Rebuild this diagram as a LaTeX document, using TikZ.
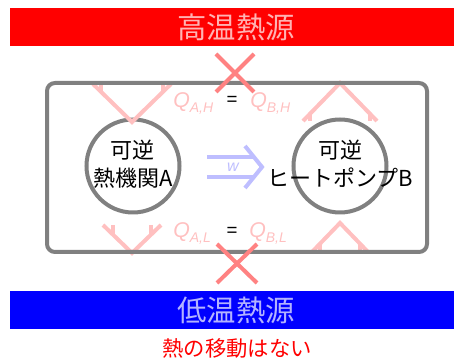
\documentclass[tikz,border=0pt]{standalone}
\usepackage{fontspec}
\setmainfont{Noto Sans CJK JP}
\newfontfamily\qfont{Liberation Sans}
\usetikzlibrary{positioning}

\definecolor{hotred}{RGB}{255,0,0}
\definecolor{coldblue}{RGB}{0,0,255}
\definecolor{heatpink}{RGB}{255,192,192}
\definecolor{crosspink}{RGB}{255,130,130}
\definecolor{workblue}{RGB}{190,190,255}
\definecolor{framegray}{RGB}{128,128,128}

\newcommand{\heatq}[2]{{\qfont\itshape Q\raisebox{-3.5pt}{\fontsize{10.5}{10.5}\selectfont #1,#2}}}

\tikzset{
  reservoir/.style={text=white, text opacity=0.7, inner sep=0pt, font=\fontsize{22}{26}\selectfont},
  engine/.style={circle, draw=framegray, line width=3pt, minimum size=69.75pt, inner sep=0pt},
  enginetext/.style={align=center, inner sep=0pt, font=\fontsize{16.5}{21}\selectfont},
  heatline/.style={heatpink, line width=3pt},
  crossline/.style={crosspink, line width=3pt},
  worklabel/.style={text=workblue, inner sep=0pt, font=\qfont\itshape\fontsize{12}{14}\selectfont},
  qlabel/.style={text=heatpink, anchor=base west, inner sep=0pt, font=\fontsize{16}{19}\selectfont},
  eqlabel/.style={inner sep=0pt, font=\qfont\fontsize{14}{16}\selectfont}
}

\begin{document}
\begin{tikzpicture}[x=0.75pt,y=-0.75pt]
  \useasboundingbox (0,0) rectangle (454,363);

  % Reservoirs
  \fill[hotred] (10,8) rectangle (454,46);
  \node[reservoir] (hot) at (236,27) {高温熱源};
  \fill[coldblue] (10,291) rectangle (454,329);
  \node[reservoir] (cold) at (236,310) {低温熱源};

  % Engine and heat pump
  \node[engine] (engA) at (133,166) {};
  \node[enginetext] (engAtext) at (133,164) {可逆\\熱機関A};
  \node[engine] (pumpB) at (340,166) {};
  \node[enginetext] (pumpBtext) at (340,164) {可逆\\ヒートポンプB};

  % Heat flows (faded)
  \draw[heatline] (93,84) -- (132,122) -- (171,84);
  \draw[heatline] (101,84) -- (101,92);
  \draw[heatline] (163,84) -- (163,92);
  \draw[heatline] (303,121) -- (340,83) -- (377,121);
  \draw[heatline] (310,113) -- (310,121);
  \draw[heatline] (370,113) -- (370,121);
  \draw[heatline] (103,225) -- (132,253) -- (161,225);
  \draw[heatline] (113,225) -- (113,234);
  \draw[heatline] (151,225) -- (151,234);
  \draw[heatline] (312,252) -- (340,223) -- (368,252);
  \draw[heatline] (320,244) -- (320,252);
  \draw[heatline] (360,244) -- (360,252);

  % Whole system
  \draw[framegray, line width=3pt, rounded corners=6pt] (47,83) rectangle (427,252);

  % Work
  \draw[workblue, line width=3pt] (207,157) -- (255,157);
  \draw[workblue, line width=3pt] (207,177) -- (255,177);
  \draw[workblue, line width=3pt] (245,146) -- (262,167) -- (245,188);
  \node[worklabel] (work) at (233,167) {w};

  % Labels
  \node[qlabel] (qah) at (173,108) {\heatq{A}{H}};
  \node[eqlabel] (eqh) at (232,101) {=};
  \node[qlabel] (qbh) at (250,108) {\heatq{B}{H}};
  \node[qlabel] (qal) at (173,238) {\heatq{A}{L}};
  \node[eqlabel] (eql) at (232,232) {=};
  \node[qlabel] (qbl) at (249,238) {\heatq{B}{L}};

  % Crosses
  \draw[crossline] (216,54) -- (254,92);
  \draw[crossline] (254,54) -- (216,92);
  \draw[crossline] (217,244) -- (257,283);
  \draw[crossline] (257,244) -- (217,283);

  \node[text=hotred, inner sep=0pt, font=\fontsize{16}{19}\selectfont] (nomove) at (237,348) {熱の移動はない};
\end{tikzpicture}
\end{document}
